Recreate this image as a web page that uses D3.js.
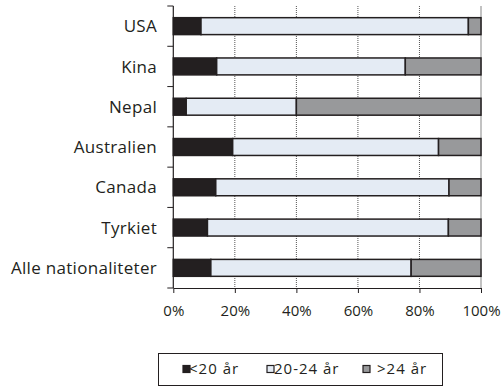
<!DOCTYPE html>
<html><head><meta charset="utf-8">
<script src="https://cdn.jsdelivr.net/npm/d3@7"></script>
<style>body{margin:0;background:#fff}svg{display:block}text{font-family:"Open Sans",sans-serif;fill:#231f20}</style>
</head><body><svg id="c" width="503" height="386"></svg>
<script>
const categories = ["USA","Kina","Nepal","Australien","Canada","Tyrkiet","Alle nationaliteter"];
const seriesNames = ["<20 år","20-24 år",">24 år"];
const under20 = [9.0,14.1,4.2,19.3,13.8,11.1,12.2];
const age20to24 = [86.9,61.3,35.8,66.9,75.8,78.3,65.1];
const over24 = [4.1,24.6,60.0,13.8,10.4,10.6,22.7];
const tickValues = [0,20,40,60,80,100];
const colors = ["#231f20","#e4ebf4","#98999b"];

const svg = d3.select("#c");
const L=173.3, R=481, T=6, B=288;
const x = d3.scaleLinear().domain([0,100]).range([L,R]);
const y = d3.scaleBand().domain(categories).range([T,B]).paddingInner(0.58).paddingOuter(0.29);

const rows = categories.map((c,i)=>({cat:c, v:[under20[i],age20to24[i],over24[i]]}));
const stack = d3.stack().keys([0,1,2]).value((d,k)=>d.v[k])(rows);

// gridlines
svg.append("g").selectAll("line").data(tickValues.filter(t=>t>0&&t<100)).join("line")
 .attr("x1",d=>x(d)).attr("x2",d=>x(d)).attr("y1",T).attr("y2",B)
 .attr("stroke","#555").attr("stroke-width",1).attr("stroke-dasharray","1,1");
svg.append("line").attr("x1",x(100)).attr("x2",x(100)).attr("y1",T).attr("y2",B).attr("stroke","#999").attr("stroke-width",1.2);

// bars
svg.append("g").selectAll("g").data(stack).join("g").attr("fill",(d,i)=>colors[i])
 .selectAll("rect").data(d=>d).join("rect")
 .attr("x",d=>x(d[0])).attr("width",d=>x(d[1])-x(d[0]))
 .attr("y",d=>y(d.data.cat)).attr("height",y.bandwidth())
 .attr("stroke","#231f20").attr("stroke-width",1.5);

// y axis
const yl = svg.append("g");
yl.append("line").attr("x1",L).attr("x2",L).attr("y1",T).attr("y2",B).attr("stroke","#231f20").attr("stroke-width",1.2);
const bounds = d3.range(categories.length+1).map(i=>T+i*y.step());
yl.selectAll("line.t").data(bounds).join("line").attr("class","t")
 .attr("x1",L-6).attr("x2",L).attr("y1",d=>d).attr("y2",d=>d).attr("stroke","#231f20").attr("stroke-width",1);
yl.selectAll("text").data(categories).join("text")
 .attr("x",157).attr("y",d=>y(d)+y.bandwidth()/2).attr("dy","0.36em")
 .attr("text-anchor","end").attr("font-size",17).attr("letter-spacing","0.3px").text(d=>d);

// x axis
const xa = svg.append("g").attr("transform",`translate(0,${B})`)
 .call(d3.axisBottom(x).tickValues(tickValues).tickFormat(d=>d+"%").tickSize(5).tickSizeOuter(0));
xa.select(".domain").attr("stroke","#231f20").attr("stroke-width",1.2);
xa.selectAll(".tick line").attr("stroke","#231f20");
xa.selectAll(".tick text").attr("font-size",15).attr("y",17).attr("font-family","Open Sans").attr("fill","#231f20");

// legend
const lg = svg.append("g");
lg.append("rect").attr("x",158.5).attr("y",353.5).attr("width",284).attr("height",32).attr("fill","#fff").attr("stroke","#231f20").attr("stroke-width",1);
const lx=[183,267,363];
const tx=[189,274,377];
seriesNames.forEach((n,i)=>{
 lg.append("rect").attr("x",lx[i]).attr("y",365.5).attr("width",7).attr("height",7).attr("fill",colors[i]).attr("stroke","#231f20").attr("stroke-width",1.2);
 lg.append("text").attr("x",tx[i]).attr("y",369).attr("dy","0.35em").attr("font-size",15).attr("letter-spacing","1px").text(n);
});
</script></body></html>
